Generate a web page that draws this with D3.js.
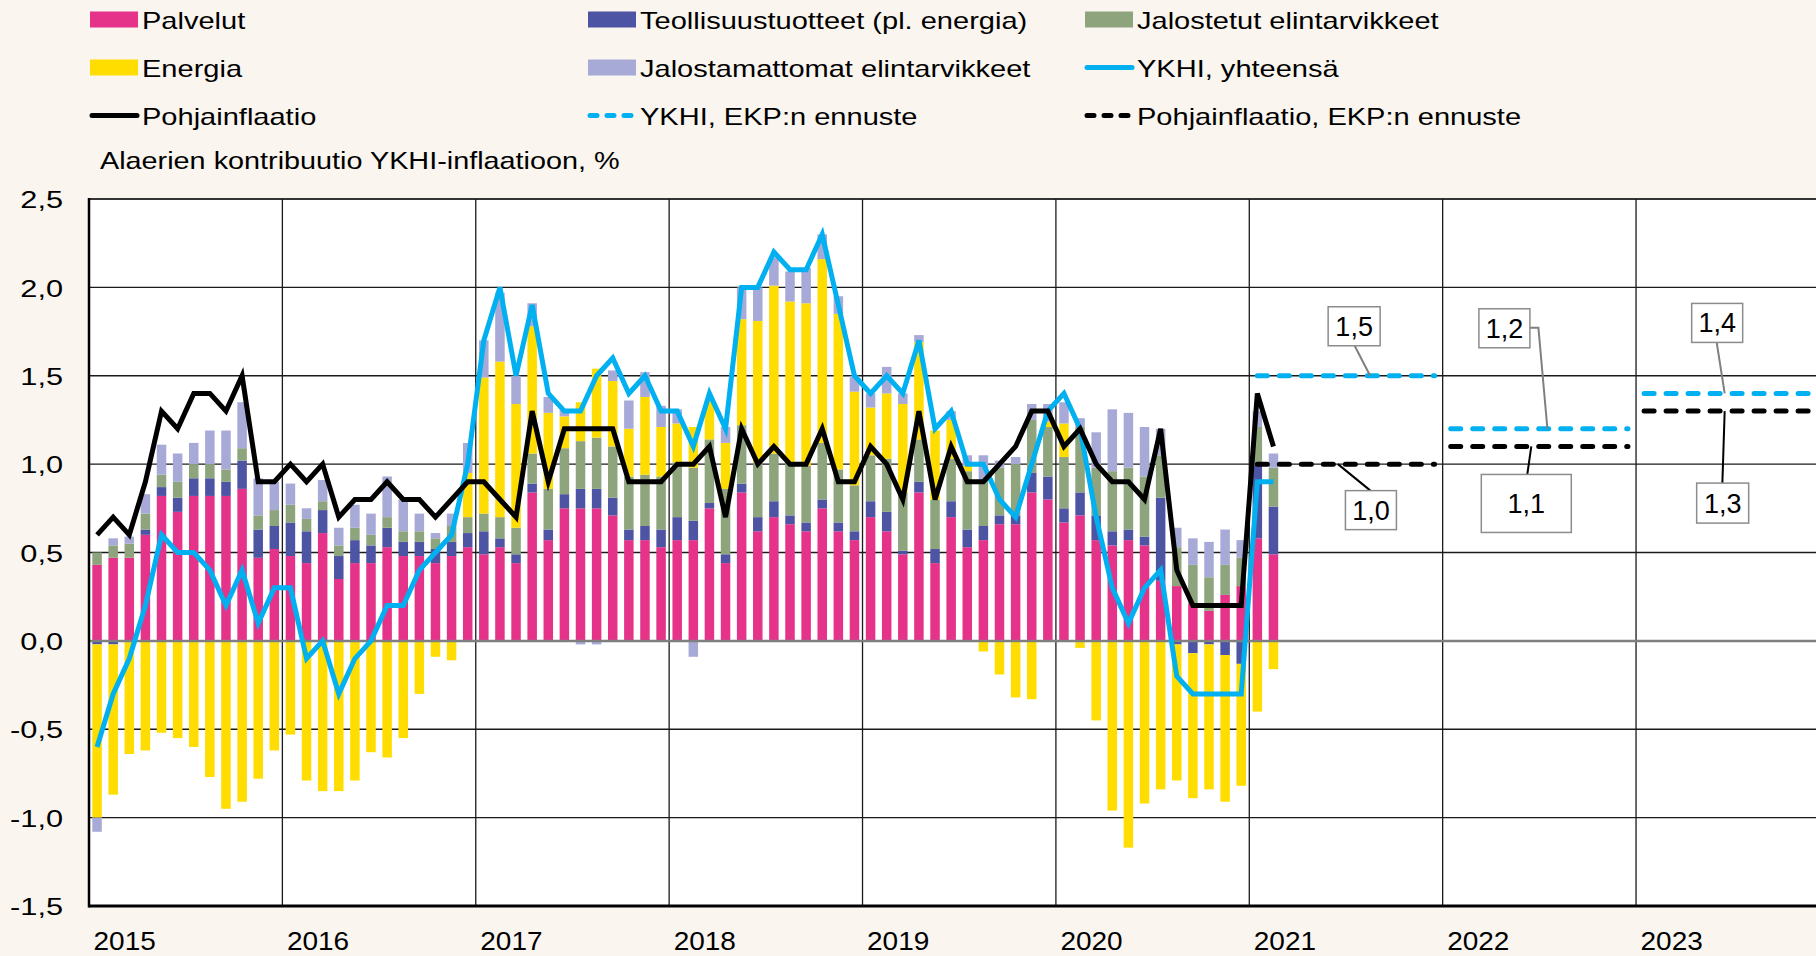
<!DOCTYPE html>
<html>
<head>
<meta charset="utf-8">
<script src="https://cdn.jsdelivr.net/npm/d3@7"></script>
<style>
  html, body { margin: 0; padding: 0; background: #faf5ef; }
  svg { display: block; }
</style>
</head>
<body>
<div id="app"></div>
<script>
const container = document.querySelector('#app');

// Months Jan 2015 .. Feb 2021
const months = d3.utcMonth.range(new Date(Date.UTC(2015, 0, 1)), new Date(Date.UTC(2021, 2, 1)));

// Contributions to HICP inflation, %-points
const palvelut = [0.43,0.47,0.47,0.60,0.82,0.73,0.82,0.82,0.82,0.86,0.47,0.52,
  0.48,0.44,0.61,0.35,0.44,0.44,0.53,0.48,0.48,0.44,0.48,0.53,
  0.49,0.53,0.44,0.84,0.57,0.75,0.75,0.75,0.71,0.57,0.57,0.53,
  0.57,0.57,0.75,0.44,0.84,0.62,0.70,0.66,0.62,0.75,0.62,0.57,
  0.70,0.62,0.49,0.84,0.44,0.70,0.53,0.57,0.66,0.66,0.84,0.80,
  0.67,0.71,0.57,0.54,0.57,0.54,0.34,0.31,0.21,0.17,0.26,0.31,
  0.58,0.49];
const teollisuus = [-0.02,-0.02,0.00,0.03,0.05,0.08,0.10,0.10,0.08,0.16,0.16,0.13,
  0.19,0.18,0.13,0.13,0.13,0.10,0.11,0.08,0.08,0.08,0.08,0.08,
  0.13,0.05,0.05,0.05,0.06,0.08,0.11,0.11,0.10,0.06,0.08,0.10,
  0.13,0.11,0.03,0.05,0.05,0.08,0.09,0.05,0.05,0.05,0.05,0.05,
  0.09,0.11,0.02,0.06,0.08,0.09,0.10,0.08,0.05,0.05,0.11,0.13,
  0.08,0.13,0.14,0.08,0.06,0.05,0.47,-0.02,-0.07,-0.02,-0.08,-0.13,
  0.41,0.27];
const jalostetut = [0.07,0.07,0.08,0.09,0.07,0.09,0.08,0.08,0.07,0.07,0.08,0.09,
  0.10,0.07,0.05,0.06,0.07,0.06,0.06,0.06,0.06,0.06,0.09,0.09,
  0.10,0.12,0.15,0.17,0.23,0.26,0.27,0.29,0.29,0.30,0.29,0.30,
  0.31,0.30,0.36,0.37,0.33,0.31,0.27,0.30,0.32,0.32,0.30,0.26,
  0.26,0.30,0.33,0.24,0.28,0.24,0.33,0.26,0.27,0.29,0.30,0.28,
  0.29,0.37,0.27,0.34,0.35,0.34,0.24,0.22,0.22,0.19,0.17,0.16,
  0.22,0.22];
const energia = [-0.98,-0.85,-0.64,-0.62,-0.52,-0.55,-0.60,-0.77,-0.95,-0.91,-0.78,-0.62,
  -0.53,-0.79,-0.85,-0.85,-0.79,-0.63,-0.66,-0.55,-0.30,-0.09,-0.11,0.25,
  0.77,0.88,0.70,0.72,0.43,0.18,0.22,0.39,0.37,0.27,0.44,0.28,
  0.22,0.23,0.22,0.26,0.60,0.80,0.95,0.91,0.92,1.04,0.88,0.53,
  0.27,0.37,0.50,0.55,0.39,0.22,0.03,-0.06,-0.19,-0.32,-0.33,0.03,
  0.19,-0.04,-0.45,-0.96,-1.17,-0.92,-0.84,-0.77,-0.82,-0.82,-0.83,-0.69,
  -0.40,-0.16];
const jalostamattomat = [-0.08,0.04,0.04,0.11,0.17,0.16,0.12,0.19,0.22,0.26,0.21,0.16,
  0.12,0.06,0.12,0.10,0.13,0.12,0.23,0.18,0.10,0.03,0.07,0.17,
  0.21,0.39,0.16,0.13,0.09,0.04,-0.02,-0.02,0.06,0.16,0.14,0.12,
  0.08,-0.09,0.00,0.09,0.18,0.19,0.16,0.17,0.20,0.14,0.10,0.09,
  0.08,0.15,0.06,0.04,0.00,0.05,0.06,0.14,0.04,0.04,0.09,0.10,
  0.12,0.05,0.20,0.35,0.31,0.28,0.15,0.11,0.15,0.20,0.20,0.10,
  0.09,0.08];

// Headline and core inflation, %
const ykhi = [-0.6,-0.3,-0.1,0.2,0.6,0.5,0.5,0.4,0.2,0.4,0.1,0.3,
  0.3,-0.1,0.0,-0.3,-0.1,0.0,0.2,0.2,0.4,0.5,0.6,1.0,
  1.7,2.0,1.5,1.9,1.4,1.3,1.3,1.5,1.6,1.4,1.5,1.3,
  1.3,1.1,1.4,1.2,2.0,2.0,2.2,2.1,2.1,2.3,1.9,1.5,
  1.4,1.5,1.4,1.7,1.2,1.3,1.0,1.0,0.8,0.7,1.0,1.3,
  1.4,1.2,0.7,0.3,0.1,0.3,0.4,-0.2,-0.3,-0.3,-0.3,-0.3,
  0.9,0.9];
const pohjainflaatio = [0.6,0.7,0.6,0.9,1.3,1.2,1.4,1.4,1.3,1.5,0.9,0.9,
  1.0,0.9,1.0,0.7,0.8,0.8,0.9,0.8,0.8,0.7,0.8,0.9,
  0.9,0.8,0.7,1.3,0.9,1.2,1.2,1.2,1.2,0.9,0.9,0.9,
  1.0,1.0,1.1,0.7,1.2,1.0,1.1,1.0,1.0,1.2,0.9,0.9,
  1.1,1.0,0.8,1.3,0.8,1.1,0.9,0.9,1.0,1.1,1.3,1.3,
  1.1,1.2,1.0,0.9,0.9,0.8,1.2,0.4,0.2,0.2,0.2,0.2,
  1.4,1.1];

// ECB projections
const forecastYears = [2021, 2022, 2023];
const ykhiForecast = [1.5, 1.2, 1.4];
const coreForecast = [1.0, 1.1, 1.3];

const yearLabels = ["2015", "2016", "2017", "2018", "2019", "2020", "2021", "2022", "2023"];
const yTickValues = [-1.5, -1.0, -0.5, 0, 0.5, 1.0, 1.5, 2.0, 2.5];

const keys = ["Palvelut", "Teollisuustuotteet (pl. energia)", "Jalostetut elintarvikkeet",
  "Energia", "Jalostamattomat elintarvikkeet"];
const colors = ["#e6338a", "#4e54a4", "#8ea47c", "#ffdd00", "#a7a9d7"];
const blue = "#00b0f0";

const fmt = d3.formatLocale({decimal: ",", thousands: " ", grouping: [3], currency: ["", ""], minus: "-"}).format(".1f");

// Chart dimensions
const width = 1816;
const height = 956;
const plotLeft = 89;
const plotTop = 199;
const plotBottom = 906;
const monthW = 16.115;
const barW = 9.5;
const font = '"Liberation Sans", Arial, sans-serif';

const x = d3.scaleLinear().domain([0, 108]).range([plotLeft, plotLeft + 108 * monthW]);
const y = d3.scaleLinear().domain([-1.5, 2.5]).range([plotBottom, plotTop]);

const svg = d3.create("svg")
    .attr("width", width)
    .attr("height", height)
    .style("font-family", font);

svg.append("rect").attr("width", width).attr("height", height).attr("fill", "#faf5ef");
svg.append("rect")
    .attr("x", x(0)).attr("y", y(2.5))
    .attr("width", width - x(0)).attr("height", y(-1.5) - y(2.5))
    .attr("fill", "#fff");

// text helper, the original text is stretched sideways
function addText(g, str, x0, y0, size, sx, anchor) {
  return g.append("text")
    .attr("transform", `translate(${x0},${y0}) scale(${sx},1)`)
    .attr("font-size", size)
    .attr("text-anchor", anchor || "start")
    .attr("fill", "#000")
    .text(str);
}

// grid
const grid = svg.append("g");
grid.selectAll("line.h")
  .data(yTickValues.filter(v => v !== 0 && v !== -1.5))
  .join("line")
    .attr("x1", x(0)).attr("x2", width)
    .attr("y1", d => y(d)).attr("y2", d => y(d))
    .attr("stroke", d => d === 2.5 ? "#333" : "#1a1a1a")
    .attr("stroke-width", d => d === 2.5 ? 2.2 : 1.3);
grid.selectAll("line.v")
  .data(d3.range(12, 108, 12))
  .join("line")
    .attr("x1", d => x(d)).attr("x2", d => x(d))
    .attr("y1", y(2.5)).attr("y2", y(-1.5))
    .attr("stroke", "#1a1a1a")
    .attr("stroke-width", 1.3);

// stacked bars
const table = months.map((m, i) => ({
  i,
  [keys[0]]: palvelut[i],
  [keys[1]]: teollisuus[i],
  [keys[2]]: jalostetut[i],
  [keys[3]]: energia[i],
  [keys[4]]: jalostamattomat[i]
}));
const stacked = d3.stack().keys(keys).offset(d3.stackOffsetDiverging)(table);

svg.append("g")
  .selectAll("g")
  .data(stacked)
  .join("g")
    .attr("fill", (d, k) => colors[k])
  .selectAll("rect")
  .data(d => d)
  .join("rect")
    .attr("x", d => x(d.data.i + 0.5) - barW / 2)
    .attr("width", barW)
    .attr("y", d => y(Math.max(d[0], d[1])))
    .attr("height", d => Math.abs(y(d[0]) - y(d[1])));

// zero line and frame
svg.append("line")
    .attr("x1", x(0)).attr("x2", width)
    .attr("y1", y(0)).attr("y2", y(0))
    .attr("stroke", "#7f7f7f").attr("stroke-width", 2.5);
svg.append("line")
    .attr("x1", x(0)).attr("x2", width)
    .attr("y1", y(-1.5)).attr("y2", y(-1.5))
    .attr("stroke", "#000").attr("stroke-width", 3);
svg.append("line")
    .attr("x1", x(0)).attr("x2", x(0))
    .attr("y1", y(2.5) - 1).attr("y2", y(-1.5) + 1.5)
    .attr("stroke", "#000").attr("stroke-width", 2.5);

// inflation lines
const line = d3.line()
  .x((d, i) => x(i + 0.5))
  .y(d => y(d));

svg.append("path")
  .datum(ykhi)
  .attr("fill", "none")
  .attr("stroke", blue)
  .attr("stroke-width", 5)
  .attr("stroke-linejoin", "miter")
  .attr("d", line);

svg.append("path")
  .datum(pohjainflaatio)
  .attr("fill", "none")
  .attr("stroke", "#000")
  .attr("stroke-width", 5)
  .attr("stroke-linejoin", "miter")
  .attr("d", line);

// ECB projection segments, one per year
const fc = svg.append("g");
[[ykhiForecast, blue], [coreForecast, "#000"]].forEach(([vals, col]) => {
  fc.append("g").selectAll("line")
    .data(vals.map((v, k) => ({v, start: (forecastYears[k] - 2015) * 12})))
    .join("line")
      .attr("x1", d => x(d.start + 0.5)).attr("x2", d => x(d.start + 11.5))
      .attr("y1", d => y(d.v)).attr("y2", d => y(d.v))
      .attr("stroke", col)
      .attr("stroke-width", 5)
      .attr("stroke-linecap", "round")
      .attr("stroke-dasharray", "10,12");
});

// projection labels: anchor month on the dashed line, box offset and leader points
const labelLayout = [
  {vals: ykhiForecast, k: 0, month: 79, box: [-16, -49.5, 52, 39], leader: [[-15.5, -30]], col: "#7f7f7f"},
  {vals: coreForecast, k: 0, month: 77, box: [33, 46, 51, 39], leader: [[32.5, 26.5]], col: "#000"},
  {vals: ykhiForecast, k: 1, month: 90, box: [-43, -100.5, 51, 39], leader: [[-9, -101], [-17.5, -101]], col: "#7f7f7f"},
  {vals: coreForecast, k: 1, month: 89, box: [-5, 57, 90, 58], leader: [[-4, 28]], col: "#000"},
  {vals: ykhiForecast, k: 2, month: 101, box: [-7.5, -70.5, 51, 39], leader: [[-8, -51]], col: "#7f7f7f"},
  {vals: coreForecast, k: 2, month: 101, box: [-2, 92, 52, 40], leader: [[-2.3, 72]], col: "#000"}
];

const lab = svg.append("g");
labelLayout.forEach(l => {
  const v = l.vals[l.k];
  const ax = x(l.month + 0.5), ay = y(v);
  const pts = [[ax, ay]].concat(l.leader.map(p => [ax + p[0], ay + p[1]]));
  lab.append("path")
    .attr("d", d3.line()(pts))
    .attr("fill", "none")
    .attr("stroke", l.col)
    .attr("stroke-width", 2);
  const [dx, dy, w, h] = l.box;
  lab.append("rect")
    .attr("x", ax + dx - w / 2).attr("y", ay + dy - h / 2)
    .attr("width", w).attr("height", h)
    .attr("fill", "#fff")
    .attr("stroke", "#8c8c8c")
    .attr("stroke-width", 1.5);
  lab.append("text")
    .attr("x", ax + dx).attr("y", ay + dy + 9.5)
    .attr("text-anchor", "middle")
    .attr("font-size", 27)
    .text(fmt(v));
});

// y axis
const yAxis = svg.append("g")
    .attr("transform", "translate(63,0)")
    .call(d3.axisLeft(y).tickValues(yTickValues).tickFormat(fmt).tickSize(0).tickPadding(0));
yAxis.select(".domain").remove();
yAxis.attr("font-size", 24).attr("font-family", font);
yAxis.selectAll("text")
    .attr("fill", "#000")
    .attr("dy", "0.36em")
    .attr("transform", "scale(1.28,1)");

// x axis, labels sit at the start of each year
const xAxis = svg.append("g")
    .attr("transform", "translate(4,950)")
    .call(d3.axisBottom(x).tickValues(d3.range(0, 108, 12)).tickFormat((d, i) => yearLabels[i]).tickSize(0).tickPadding(0));
xAxis.select(".domain").remove();
xAxis.attr("font-size", 25).attr("font-family", font).attr("text-anchor", "start");
xAxis.selectAll("text")
    .attr("fill", "#000")
    .attr("y", 0)
    .attr("dy", null)
    .attr("transform", "scale(1.12,1)");

// legend
const legendCols = [90, 588, 1085];
const legendRows = [29, 77, 125];
const legendItems = [
  {name: keys[0], type: "rect", color: colors[0]},
  {name: keys[1], type: "rect", color: colors[1]},
  {name: keys[2], type: "rect", color: colors[2]},
  {name: keys[3], type: "rect", color: colors[3]},
  {name: keys[4], type: "rect", color: colors[4]},
  {name: "YKHI, yhteensä", type: "line", color: blue},
  {name: "Pohjainflaatio", type: "line", color: "#000"},
  {name: "YKHI, EKP:n ennuste", type: "dash", color: blue},
  {name: "Pohjainflaatio, EKP:n ennuste", type: "dash", color: "#000"}
];

const legend = svg.append("g");
legendItems.forEach((d, n) => {
  const lx = legendCols[n % 3];
  const ly = legendRows[Math.floor(n / 3)];
  if (d.type === "rect") {
    legend.append("rect")
      .attr("x", lx).attr("y", ly - 17.5)
      .attr("width", 48).attr("height", 16)
      .attr("fill", d.color);
  } else {
    legend.append("line")
      .attr("x1", lx + 2).attr("x2", lx + 47)
      .attr("y1", ly - 9.5).attr("y2", ly - 9.5)
      .attr("stroke", d.color)
      .attr("stroke-width", 5)
      .attr("stroke-linecap", "round")
      .attr("stroke-dasharray", d.type === "dash" ? "7,10" : null);
  }
  addText(legend, d.name, lx + 52, ly, 24, 1.21);
});

addText(svg, "Alaerien kontribuutio YKHI-inflaatioon, %", 100, 169, 24, 1.2);

container.append(svg.node());
</script>
</body>
</html>
